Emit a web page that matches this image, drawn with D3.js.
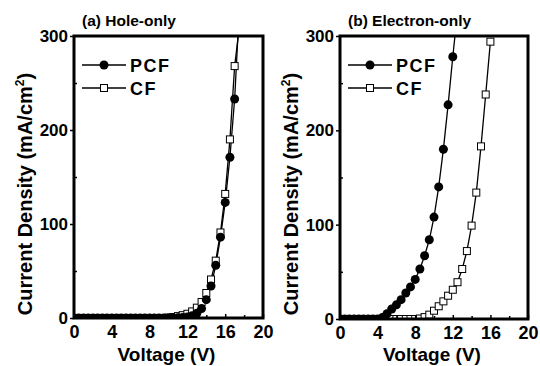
<!DOCTYPE html>
<meta charset="utf-8">
<style>
body { margin: 0; background: #fff; }
text { font-family: "Liberation Sans", Arial, sans-serif; font-weight: bold; fill: #000; }
.axis path { display: none; }
.axis line { stroke: #000; stroke-width: 1.5; }
.frame { fill: none; stroke: #000; stroke-width: 3; }
.curve { fill: none; stroke: #000; stroke-width: 1.3; }
</style>
<body>
<script src="https://d3js.org/d3.v7.min.js"></script>
<script>
// voltage steps (V), same for every series
var voltage = [0,0.5,1,1.5,2,2.5,3,3.5,4,4.5,5,5.5,6,6.5,7,7.5,8,8.5,9,9.5,10,10.5,11,11.5,12,12.5,13,13.5,14,14.5,15,15.5,16,16.5,17,17.5];

// (a) hole-only, mA/cm2
var holePCF = [0,0,0,0,0,0,0,0,0,0,0,0,0,0,0,0,0,0,0,0,0,0,0.3,0.5,1,2.5,5,10,19.5,34,56,86,123,171,233,330];
var holeCF  = [0,0,0,0,0,0,0,0,0,0,0,0,0,0,0,0,0,0,0,0,0.5,1,2,3,4.5,7,11,17,26.6,41,61,91,132,190,268,310];

// (b) electron-only, mA/cm2
var elecPCF = [0,0,0,0,0,0,0,0,0,1.5,5.6,10.6,15,20.5,27.6,34,42,53,67,84,108,140,180,227,278,326];
var elecCF  = [0,0,0,0,0,0,0,0,0,0,0,0,0,0,0,0,0,0.5,2,4.6,8.8,13.5,18.7,24.7,31,39,53,72,99,134,183,238,294];

var xMajor = [0,4,8,12,16,20], xMinor = [2,6,10,14,18];
var yMajor = [0,100,200,300], yMinor = [50,150,250];

var svg = d3.select("body").append("svg").attr("width", 540).attr("height", 366);

function boldTicks(sel, size) {
  sel.attr("font-family", null).attr("font-size", null);
  sel.selectAll("text")
    .style("font-family", "'Liberation Sans', Arial, sans-serif")
    .style("font-weight", "bold")
    .style("font-size", size)
    .attr("fill", "#000");
}

function panel(id, left, right, top, bottom, title, pcf, cf, legX) {
  var x = d3.scaleLinear().domain([0, 20]).range([left, right]),
      y = d3.scaleLinear().domain([0, 300]).range([bottom, top]);

  svg.append("clipPath").attr("id", id)
    .append("rect").attr("x", left).attr("y", top)
    .attr("width", right - left).attr("height", bottom - top);

  var g = svg.append("g").attr("clip-path", "url(#" + id + ")");

  var line = d3.line()
    .x(function(d) { return x(d[0]); })
    .y(function(d) { return y(d[1]); });

  var dPCF = pcf.map(function(v, i) { return [voltage[i], v]; }),
      dCF = cf.map(function(v, i) { return [voltage[i], v]; });

  g.append("path").attr("class", "curve").attr("d", line(dCF));
  g.append("path").attr("class", "curve").attr("d", line(dPCF));

  g.selectAll(".sq").data(dCF).enter().append("rect")
    .attr("x", function(d) { return x(d[0]) - 3.5; })
    .attr("y", function(d) { return y(d[1]) - 3.5; })
    .attr("width", 7).attr("height", 7)
    .attr("fill", "#fff").attr("stroke", "#000").attr("stroke-width", 1);

  g.selectAll(".dot").data(dPCF).enter().append("circle")
    .attr("cx", function(d) { return x(d[0]); })
    .attr("cy", function(d) { return y(d[1]); })
    .attr("r", 4.5).attr("fill", "#000");

  // axes
  var ax = svg.append("g").attr("class", "axis").attr("transform", "translate(0," + bottom + ")")
    .call(d3.axisBottom(x).tickValues(xMajor).tickSize(-4).tickPadding(7));
  boldTicks(ax, "18px");
  svg.append("g").attr("class", "axis").attr("transform", "translate(0," + bottom + ")")
    .call(d3.axisBottom(x).tickValues(xMinor).tickSize(-3).tickFormat(""));

  var ay = svg.append("g").attr("class", "axis").attr("transform", "translate(" + left + ",0)")
    .call(d3.axisLeft(y).tickValues(yMajor).tickSize(4).tickPadding(2));
  boldTicks(ay, "17px");
  svg.append("g").attr("class", "axis").attr("transform", "translate(" + left + ",0)")
    .call(d3.axisLeft(y).tickValues(yMinor).tickSize(-3).tickFormat(""));

  svg.append("rect").attr("class", "frame")
    .attr("x", left).attr("y", top).attr("width", right - left).attr("height", bottom - top);

  // titles
  svg.append("text").attr("x", left + 8).attr("y", 26)
    .style("font-size", "15.5px").text(title);

  svg.append("text").attr("x", (left + right) / 2 - 2).attr("y", 361)
    .attr("text-anchor", "middle").style("font-size", "19px").text("Voltage (V)");

  var yt = svg.append("text")
    .attr("transform", "translate(" + (left - 42) + ",194) rotate(-90)")
    .attr("text-anchor", "middle").style("font-size", "20px");
  yt.append("tspan").text("Current Density (mA/cm");
  yt.append("tspan").attr("dy", -8).style("font-size", "12px").text("2");
  yt.append("tspan").attr("dy", 8).text(")");

  // legend
  var leg = [{name: "PCF", y: 65, type: "c"}, {name: "CF", y: 88, type: "s"}];
  leg.forEach(function(l) {
    svg.append("line").attr("x1", legX).attr("x2", legX + 44)
      .attr("y1", l.y).attr("y2", l.y).attr("stroke", "#000").attr("stroke-width", 1.3);
    if (l.type == "c") {
      svg.append("circle").attr("cx", legX + 22).attr("cy", l.y).attr("r", 4.5).attr("fill", "#000");
    } else {
      svg.append("rect").attr("x", legX + 18.5).attr("y", l.y - 3.5).attr("width", 7).attr("height", 7)
        .attr("fill", "#fff").attr("stroke", "#000").attr("stroke-width", 1);
    }
    svg.append("text").attr("x", legX + 48).attr("y", l.y + 6.5)
      .style("font-size", "18px").style("letter-spacing", "1.5px").text(l.name);
  });
}

panel("clipA", 74, 263, 36, 318, "(a) Hole-only", holePCF, holeCF, 82);
panel("clipB", 340, 528, 36, 319, "(b) Electron-only", elecPCF, elecCF, 348);
</script>
</body>
